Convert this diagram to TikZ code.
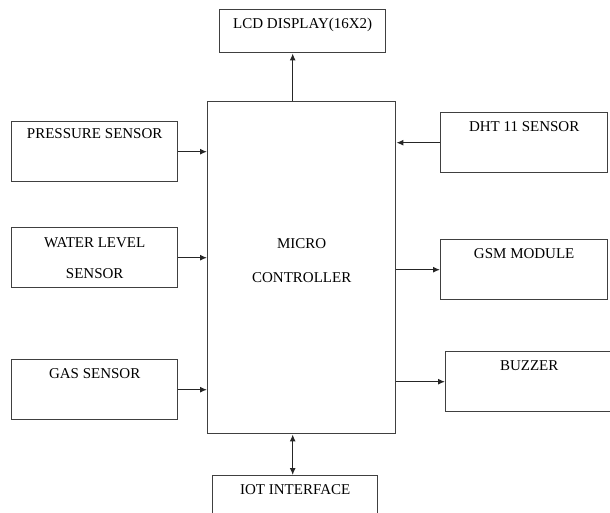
\documentclass[tikz,border=0pt]{standalone}
\usepackage{fontspec}
\setmainfont{Liberation Serif}
\usetikzlibrary{arrows.meta}

\tikzset{
  block/.style={draw=black!75, line width=1.4pt, anchor=north west, inner sep=0pt,
    minimum width=166pt, minimum height=60pt, align=center},
  head/.style={label={[anchor=base, yshift=-19pt]north:#1}},
  link/.style={draw=black!85, line width=1.2pt},
}

\begin{document}
\begin{tikzpicture}[x=1pt, y=-1pt, >={Latex[length=7pt,width=6pt]},
    font=\fontsize{15}{17}\selectfont]
        \clip (0,0) rectangle (610,512);
        % centre block
        \node[block, minimum width=188pt, minimum height=332pt,
          label={[align=center, yshift=7pt]center:MICRO\\[17pt]CONTROLLER}] (mcu) at (207,101) {};
        \node[block, head=LCD DISPLAY(16X2), minimum height=43pt] (lcd) at (219,9) {};
        \node[block, minimum width=165pt, minimum height=50pt, head=IOT INTERFACE] (iot) at (212,475) {};
        % inputs on the left
        \node[block, label={[anchor=base, yshift=-17pt]north:PRESSURE SENSOR}] (pressure) at (11,121) {};
        \node[block] (water) at (11,227) {WATER LEVEL\\[14pt]SENSOR};
        \node[block, head=GAS SENSOR] (gas) at (11,359) {};
        % right side
        \node[block, minimum width=167pt, head=DHT 11 SENSOR] (dht) at (440,112) {};
        \node[block, minimum width=167pt, head=GSM MODULE] (gsm) at (440,239) {};
        \node[block, minimum width=167pt, head=BUZZER] (buzzer) at (445,351) {};

        \draw[link, ->] (pressure.east) -- (pressure.east -| mcu.west);
        \draw[link, ->] (water.east) -- (water.east -| mcu.west);
        \draw[link, ->] (gas.east) -- (gas.east -| mcu.west);
        \draw[link, ->] (dht.west) -- (dht.west -| mcu.east);
        \draw[link, ->] (mcu.east |- gsm.west) -- (gsm.west);
        \draw[link, ->] (mcu.east |- buzzer.west) -- (buzzer.west);
        \draw[link, ->] ([xshift=-9pt]mcu.north) -- ([xshift=-9pt]mcu.north |- lcd.south);
        \draw[link, <->] ([xshift=-9pt]mcu.south) -- ([xshift=-9pt]mcu.south |- iot.north);
    \end{tikzpicture}
\end{document}
